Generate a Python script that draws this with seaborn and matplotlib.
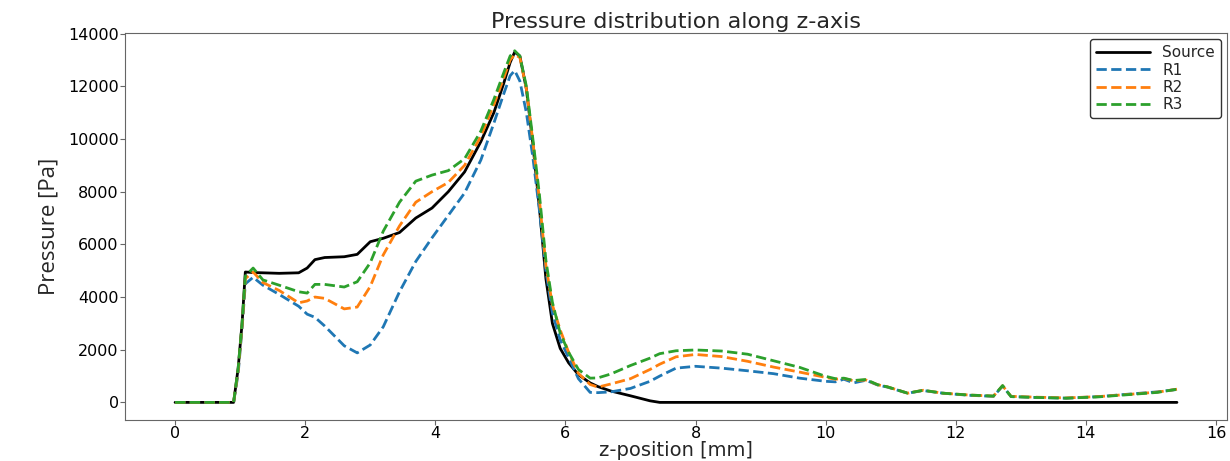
import numpy as np
import pandas as pd
import matplotlib
matplotlib.use("Agg")
import matplotlib.pyplot as plt
import seaborn as sns

# --- data (z in mm, pressure in Pa) ---
z_pos = [0, 0.5, 0.9, 0.97, 1.03, 1.08, 1.2, 1.35, 1.6, 1.9, 2.03, 2.15, 2.3, 2.6, 2.8,
         3.0, 3.2, 3.45, 3.7, 3.95, 4.2, 4.45, 4.7, 4.9, 5.05, 5.15, 5.22, 5.3, 5.4, 5.5,
         5.6, 5.7, 5.8, 5.92, 6.05, 6.2, 6.38, 6.5, 6.7, 7.0, 7.3, 7.45, 7.7, 8.0, 8.4,
         8.8, 9.2, 9.6, 10.0, 10.15, 10.28, 10.43, 10.62, 10.8, 10.95, 11.26, 11.5, 11.8,
         12.2, 12.58, 12.72, 12.85, 13.2, 13.7, 14.2, 14.74, 15.1, 15.4]

source = [0, 0, 0, 1300, 3000, 4950, 4930, 4920, 4900, 4920, 5100, 5420, 5500, 5530, 5620,
          6100, 6230, 6450, 7000, 7380, 8000, 8750, 9900, 11000, 12100, 12900, 13300, 13150, 11900, 9800,
          7400, 4700, 3000, 2050, 1500, 1050, 740, 600, 430, 250, 60, 0, 0, 0, 0,
          0, 0, 0, 0, 0, 0, 0, 0, 0, 0, 0, 0, 0,
          0, 0, 0, 0, 0, 0, 0, 0, 0, 0]

r1 = [0, 0, 0, 1100, 2800, 4500, 4750, 4450, 4100, 3650, 3350, 3230, 2900, 2150, 1880,
      2180, 2870, 4200, 5350, 6250, 7100, 7950, 9200, 10600, 11700, 12400, 12600, 12200, 11000, 9300,
      7300, 5000, 3400, 2370, 1700, 900, 380, 370, 400, 530, 800, 1000, 1300, 1370, 1300,
      1200, 1090, 920, 800, 780, 880, 740, 840, 660, 580, 350, 450, 350,
      270, 230, 620, 220, 190, 160, 220, 330, 400, 490]

r2 = [0, 0, 0, 1200, 2900, 4700, 4950, 4550, 4250, 3780, 3850, 4000, 3950, 3550, 3620,
      4400, 5600, 6700, 7600, 8000, 8350, 9000, 10100, 11300, 12300, 13000, 13200, 13100, 11900, 9900,
      7700, 5200, 3700, 2750, 1900, 1100, 680, 580, 700, 900, 1250, 1450, 1730, 1820, 1740,
      1560, 1340, 1150, 950, 880, 910, 820, 850, 670, 590, 350, 460, 350,
      280, 240, 630, 230, 200, 170, 220, 320, 390, 500]

r3 = [0, 0, 0, 1300, 3000, 4800, 5100, 4650, 4450, 4200, 4150, 4480, 4480, 4380, 4580,
      5300, 6500, 7600, 8400, 8630, 8800, 9250, 10300, 11500, 12500, 13150, 13350, 13150, 12000, 10000,
      7900, 5400, 3800, 2630, 1900, 1250, 920, 930, 1080, 1400, 1680, 1850, 1960, 1990, 1950,
      1830, 1580, 1330, 990, 900, 920, 830, 870, 670, 590, 350, 460, 350,
      280, 240, 640, 220, 190, 160, 210, 310, 380, 500]

series = {"Source": source, "R1": r1, "R2": r2, "R3": r3}
colors = {"Source": "black", "R1": "#1f77b4", "R2": "#ff7f0e", "R3": "#2ca02c"}
styles = {"Source": "-", "R1": "--", "R2": "--", "R3": "--"}

sns.set_style("ticks")
plt.rcParams["font.family"] = ["DejaVu Sans"]

fig = plt.figure(figsize=(12.3, 4.61), dpi=100)
ax = fig.add_axes([0.1016, 0.089, 0.896, 0.839])

for name, vals in series.items():
    df = pd.DataFrame({"z": z_pos, "p": vals})
    sns.lineplot(data=df, x="z", y="p", ax=ax, color=colors[name],
                 linestyle=styles[name], linewidth=2, label=name)

ax.set_title("Pressure distribution along z-axis", fontsize=16, pad=4)
ax.set_xlabel("z-position [mm]", fontsize=14, labelpad=0)
ax.set_ylabel("Pressure [Pa]", fontsize=16, family=["Open Sans"], labelpad=6)
ax.set_xticks(np.arange(0, 17, 2))
ax.set_yticks(np.arange(0, 14001, 2000))
ax.tick_params(labelsize=11.5, colors="0.4", labelcolor="black", pad=1, length=3.5)
for sp in ax.spines.values():
    sp.set_color("0.4")

leg = ax.legend(loc="upper right", fontsize=11, frameon=True, fancybox=True,
                framealpha=1, edgecolor="0.2", handlelength=3.5,
                labelspacing=0.15, borderaxespad=0.4)

plt.savefig("out.png", dpi=100)
